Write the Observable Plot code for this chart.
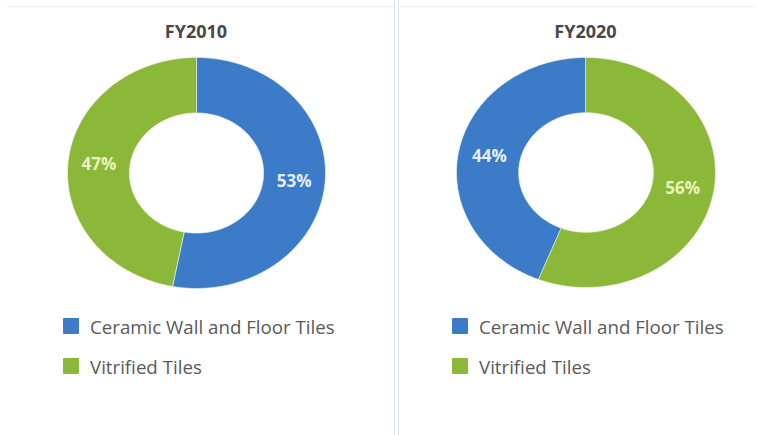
<!DOCTYPE html>
<html>
<head>
<meta charset="utf-8">
<script src="https://cdn.jsdelivr.net/npm/d3@7"></script>
<script src="https://cdn.jsdelivr.net/npm/@observablehq/plot@0.6"></script>
<style>
  html, body { margin: 0; padding: 0; background: #fff; }
  #root { position: relative; width: 760px; height: 435px; overflow: hidden; font-family: "Open Sans", sans-serif; }
  .panel { position: absolute; top: 0; height: 435px; }
  .panel svg { position: absolute; left: 0; top: 0; }
  .title { position: absolute; top: 19px; font-weight: bold; font-size: 18px; color: #484848; transform: translateX(-50%); white-space: nowrap; }
  .legend { position: absolute; font-size: 18.7px; color: #5a5a5a; }
  .item { display: flex; align-items: center; height: 40px; white-space: nowrap; }
  .sw { width: 16px; height: 16px; margin-right: 11px; border-radius: 1px; }
  .sep { position: absolute; top: 0; width: 1px; height: 435px; background: #dce5ee; }
  .topline { position: absolute; top: 6px; height: 1px; background: #eeeeee; }
</style>
</head>
<body>
<div id="root"></div>
<script>
// ---- data ----
const categories = ["Ceramic Wall and Floor Tiles", "Vitrified Tiles"];
const colors = ["#3b7bc8", "#8cb83a"];
const labelColors = ["#e8eefa", "#eaf3bd"];
const years = ["FY2010", "FY2020"];
const share2010 = [53, 47];
const share2020 = [44, 56];

const seriesByYear = [share2010, share2020];

// ---- layout ----
const panels = [
  {left: 0, width: 395, cx: 196, cy: 172.5, rx: 129, ry: 115.5, legendLeft: 63, legendTop: 306},
  {left: 399, width: 361, cx: 186.5, cy: 172, rx: 129.5, ry: 115, legendLeft: 53, legendTop: 306}
];
const innerR = 0.52, outerR = 1, labelR = 0.76;

const root = document.getElementById("root");

function ringPoints(slices) {
  const pts = [];
  slices.forEach(s => {
    const n = Math.max(8, Math.ceil((s.endAngle - s.startAngle) / 0.02));
    for (let i = 0; i <= n; i++) {
      const a = s.startAngle + (s.endAngle - s.startAngle) * i / n;
      pts.push({key: s.data.key, x: outerR * Math.sin(a), y: outerR * Math.cos(a)});
    }
    for (let i = n; i >= 0; i--) {
      const a = s.startAngle + (s.endAngle - s.startAngle) * i / n;
      pts.push({key: s.data.key, x: innerR * Math.sin(a), y: innerR * Math.cos(a)});
    }
  });
  return pts;
}

years.forEach((year, yi) => {
  const p = panels[yi];
  const rows = categories.map((c, i) => ({key: c, value: seriesByYear[yi][i]}));
  const slices = d3.pie().value(d => d.value)(rows); // sorted descending, clockwise from 12 o'clock
  const pts = ringPoints(slices);
  const labels = slices.map(s => {
    const a = (s.startAngle + s.endAngle) / 2;
    return {key: s.data.key, text: s.data.value + "%", x: labelR * Math.sin(a), y: labelR * Math.cos(a)};
  });

  const panel = document.createElement("div");
  panel.className = "panel";
  panel.style.left = p.left + "px";
  panel.style.width = p.width + "px";

  const chart = Plot.plot({
    width: p.width,
    height: 435,
    margin: 0,
    style: {background: "transparent", fontFamily: "Open Sans, sans-serif"},
    x: {domain: [-1, 1], range: [p.cx - p.rx, p.cx + p.rx], axis: null},
    y: {domain: [-1, 1], range: [p.cy + p.ry, p.cy - p.ry], axis: null},
    color: {domain: categories, range: colors},
    marks: [
      Plot.line(pts, {x: "x", y: "y", z: "key", fill: "key", stroke: "#f4f8f0", strokeWidth: 0.6, curve: "linear-closed"}),
      Plot.text(labels, {x: "x", y: "y", text: "text", fill: d => labelColors[categories.indexOf(d.key)],
        fontSize: 17, fontWeight: "bold"})
    ]
  });
  panel.appendChild(chart);

  const title = document.createElement("div");
  title.className = "title";
  title.style.left = p.cx + "px";
  title.textContent = year;
  panel.appendChild(title);

  const legend = document.createElement("div");
  legend.className = "legend";
  legend.style.left = p.legendLeft + "px";
  legend.style.top = p.legendTop + "px";
  categories.forEach((c, i) => {
    const item = document.createElement("div");
    item.className = "item";
    const sw = document.createElement("div");
    sw.className = "sw";
    sw.style.background = colors[i];
    const t = document.createElement("span");
    t.textContent = c;
    item.appendChild(sw);
    item.appendChild(t);
    legend.appendChild(item);
  });
  panel.appendChild(legend);
  root.appendChild(panel);
});

// separators / frame
[394, 398].forEach(x => {
  const s = document.createElement("div");
  s.className = "sep";
  s.style.left = x + "px";
  root.appendChild(s);
});
[[7, 387], [400, 355]].forEach(([l, w]) => {
  const t = document.createElement("div");
  t.className = "topline";
  t.style.left = l + "px";
  t.style.width = w + "px";
  root.appendChild(t);
});
</script>
</body>
</html>
